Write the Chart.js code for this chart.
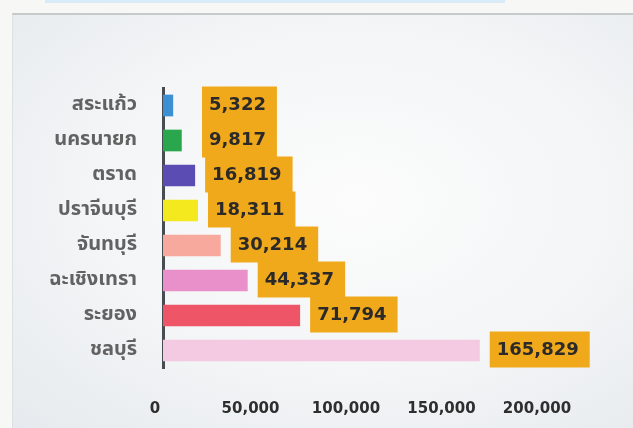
<!DOCTYPE html>
<html>
<head>
<meta charset="utf-8">
<script src="https://cdn.jsdelivr.net/npm/chart.js@4.4.1/dist/chart.umd.min.js"></script>
<style>
  html, body { margin: 0; width: 633px; height: 428px; overflow: hidden; background: #f7f7f5; }
  #strip { position: absolute; left: 45px; top: 0; width: 460px; height: 3px; background: #d9ebf6; }
  #panel {
    position: absolute; left: 12px; top: 13px; right: 0; bottom: 0;
    border-top: 2px solid #c8c9ca; border-left: 1px solid #dde1e4;
    background: radial-gradient(ellipse at 55% 45%, #fcfcfc 0%, #f3f5f6 55%, #e6eaee 100%);
  }
  canvas { position: absolute; left: 0; top: 0; }
</style>
</head>
<body>
<div id="strip"></div>
<div id="panel"></div>
<canvas id="chart" width="633" height="428"></canvas>
<script>
/* ---- datos ---- */
const provinces = ['สระแก้ว', 'นครนายก', 'ตราด', 'ปราจีนบุรี', 'จันทบุรี', 'ฉะเชิงเทรา', 'ระยอง', 'ชลบุรี'];
const values = [5322, 9817, 16819, 18311, 30214, 44337, 71794, 165829];
const barColors = ['#3b8fd2', '#2aa64c', '#5a4cb2', '#f4e81e', '#f6a99c', '#e98fc9', '#ee5668', '#f4c9e2'];
const xTicks = [0, 50000, 100000, 150000, 200000];

const fmt = v => v.toLocaleString('en-US');
const NUM_FONT = 'bold 18px "DejaVu Sans", sans-serif';

// cajas naranjas con el valor, en escalera a la derecha de cada barra
const valueBoxes = {
  id: 'valueBoxes',
  afterDatasetsDraw(chart) {
    const { ctx, chartArea } = chart;
    const bars = chart.getDatasetMeta(0).data;
    ctx.save();
    ctx.font = NUM_FONT;
    ctx.textBaseline = 'middle';
    bars.forEach((bar, i) => {
      const txt = fmt(values[i]);
      const w = ctx.measureText(txt).width + 18;
      const left = Math.max(bar.x + 10, chartArea.left + 39);
      const cy = bar.y - 1;
      ctx.fillStyle = '#f1a91c';
      ctx.fillRect(left, cy - 18, w, 36);
      ctx.fillStyle = '#2b2a28';
      ctx.fillText(txt, left + 7, cy + 1);
    });
    ctx.restore();
  }
};

new Chart(document.getElementById('chart'), {
  type: 'bar',
  data: {
    labels: provinces,
    datasets: [{
      data: values,
      backgroundColor: barColors,
      borderWidth: 0,
      categoryPercentage: 1,
      barPercentage: 0.62,
    }],
  },
  options: {
    indexAxis: 'y',
    responsive: false,
    animation: false,
    layout: { padding: { top: 88, right: 88, bottom: 0, left: 0 } },
    plugins: { legend: { display: false }, tooltip: { enabled: false } },
    scales: {
      x: {
        min: 0, max: 200000,
        afterBuildTicks: s => { s.ticks = xTicks.map(v => ({ value: v })); },
        afterFit: s => { s.height = 60; },
        grid: { display: false },
        border: { display: false },
        ticks: {
          callback: v => fmt(v),
          padding: 24,
          labelOffset: -8,
          maxRotation: 0,
          autoSkip: false,
          color: '#2e2e2e',
          font: { family: '"DejaVu Sans", sans-serif', size: 15, weight: 'bold' },
        },
      },
      y: {
        afterFit: s => { s.width = 163; },
        grid: { display: false },
        border: { display: true, color: '#474c52', width: 3 },
        ticks: {
          padding: 18,
          color: '#626262',
          font: { family: '"Noto Sans Thai", "Noto Sans", sans-serif', size: 20, weight: 'bold' },
        },
      },
    },
  },
  plugins: [valueBoxes],
});
</script>
</body>
</html>
